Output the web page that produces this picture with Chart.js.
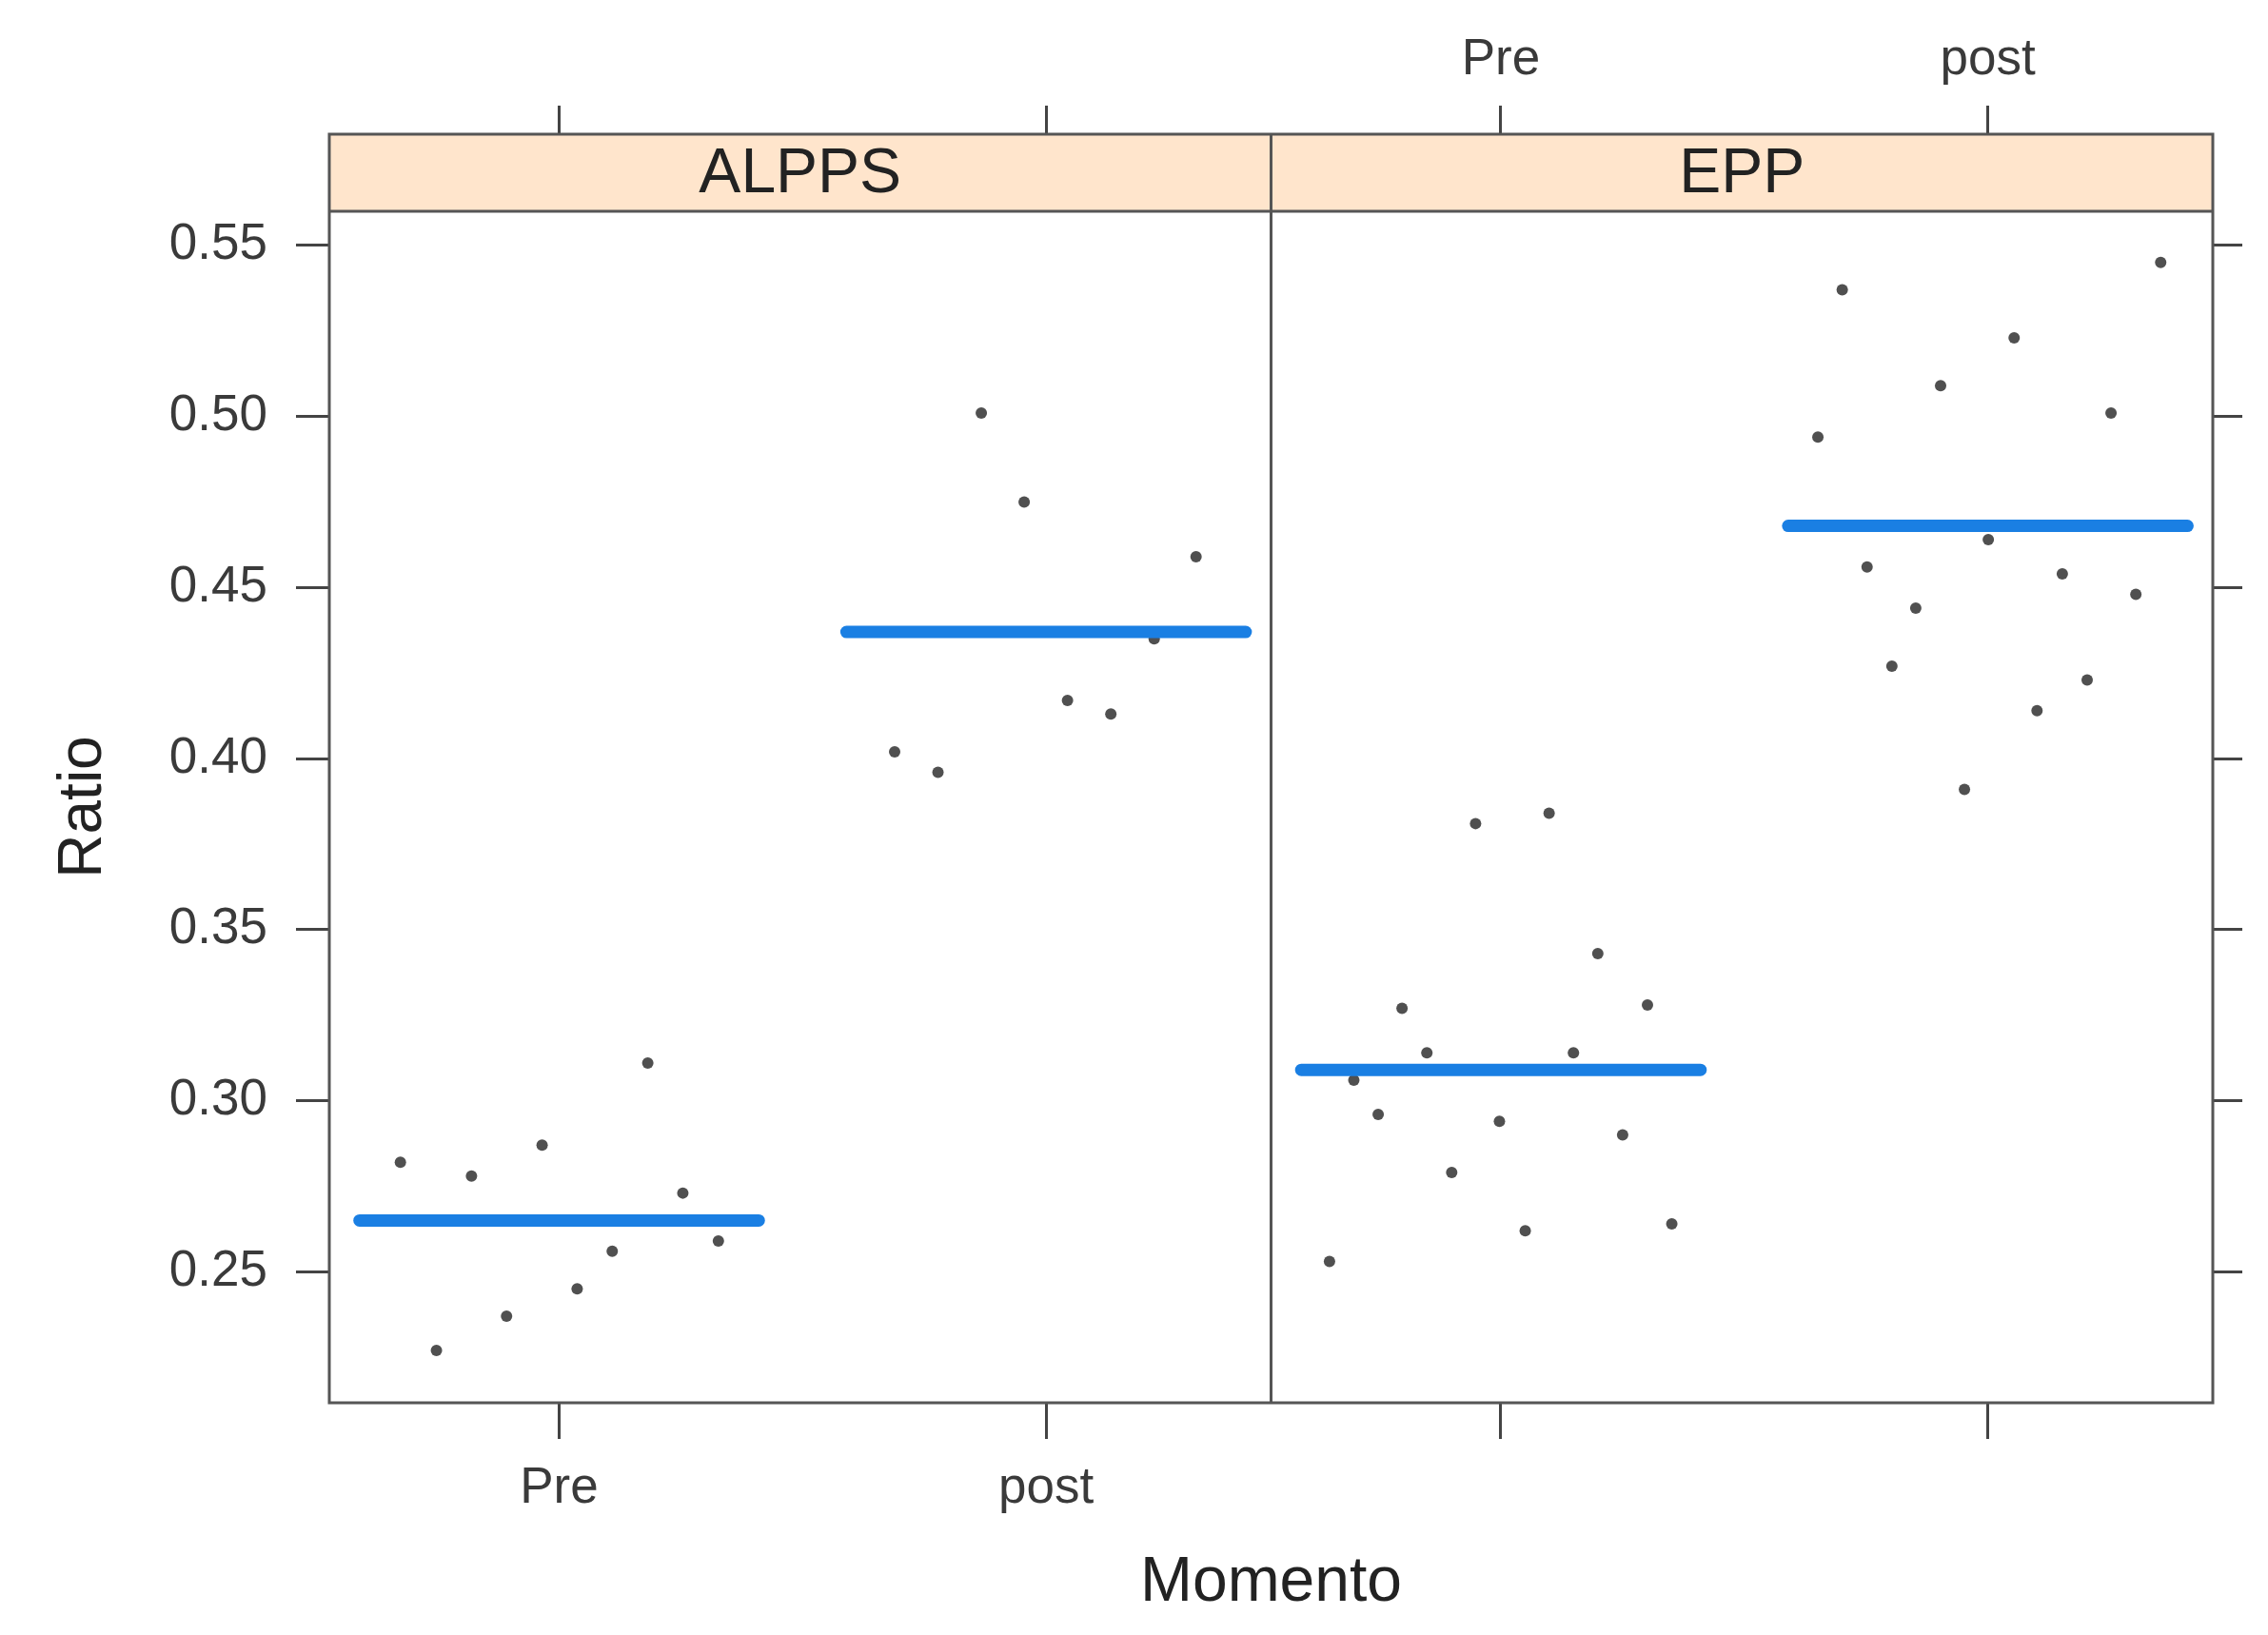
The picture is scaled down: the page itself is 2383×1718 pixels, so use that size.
<!DOCTYPE html>
<html>
<head>
<meta charset="utf-8">
<script src="https://cdn.jsdelivr.net/npm/chart.js@4.4.1/dist/chart.umd.min.js"></script>
<style>
  html, body { margin: 0; padding: 0; background: #fff; }
  #wrap { width: 2383px; height: 1718px; }
</style>
</head>
<body>
<div id="wrap"><canvas id="ratioChart" width="2383" height="1718"></canvas></div>
<script>
const grupos = ['ALPPS', 'EPP'];
const momentos = ['Pre', 'post'];
const yTicks = [0.25, 0.30, 0.35, 0.40, 0.45, 0.50, 0.55];

// horizontal jitter (around the category) and ratio of each patient
const alppsPreJitter = [-0.326, -0.252, -0.180, -0.108, -0.035, 0.037, 0.109, 0.182, 0.254, 0.327];
const alppsPreRatio  = [0.282, 0.227, 0.278, 0.237, 0.287, 0.245, 0.256, 0.311, 0.273, 0.259];

const alppsPostJitter = [-0.311, -0.222, -0.133, -0.045, 0.044, 0.133, 0.222, 0.308];
const alppsPostRatio  = [0.402, 0.396, 0.501, 0.475, 0.417, 0.413, 0.435, 0.459];

const eppPreJitter = [-0.352, -0.302, -0.252, -0.203, -0.152, -0.101, -0.052, -0.003, 0.050, 0.099, 0.149, 0.199, 0.250, 0.301, 0.351];
const eppPreRatio  = [0.253, 0.306, 0.296, 0.327, 0.314, 0.279, 0.381, 0.294, 0.262, 0.384, 0.314, 0.343, 0.290, 0.328, 0.264];

const eppPostJitter = [-0.349, -0.299, -0.248, -0.197, -0.148, -0.097, -0.048, 0.001, 0.054, 0.101, 0.153, 0.204, 0.253, 0.304, 0.355];
const eppPostRatio  = [0.494, 0.537, 0.456, 0.427, 0.444, 0.509, 0.391, 0.464, 0.523, 0.414, 0.454, 0.423, 0.501, 0.448, 0.545];

// group means (blue bars): ALPPS Pre, ALPPS post, EPP Pre, EPP post
const medias = [0.265, 0.437, 0.309, 0.468];

// layout
const panelSpan = 1.934;          // x units per panel
const xMin = 0.528;
const yMin = 0.2117, yMax = 0.5825; // top part holds the strip
const stripHeight = 81;
const meanHalf = 0.41;

const FONT = "'Liberation Sans', Arial, Helvetica, sans-serif";
Chart.defaults.font.family = FONT;

const celdas = [
  { panel: 0, cat: 0, jitter: alppsPreJitter, ratio: alppsPreRatio, media: medias[0] },
  { panel: 0, cat: 1, jitter: alppsPostJitter, ratio: alppsPostRatio, media: medias[1] },
  { panel: 1, cat: 0, jitter: eppPreJitter, ratio: eppPreRatio, media: medias[2] },
  { panel: 1, cat: 1, jitter: eppPostJitter, ratio: eppPostRatio, media: medias[3] },
];

const catTicks = [];
grupos.forEach((g, p) => momentos.forEach((m, c) => catTicks.push(c + 1 + p * panelSpan)));

const datasets = [];
celdas.forEach(cel => {
  const cx = cel.cat + 1 + cel.panel * panelSpan;
  datasets.push({
    type: 'line',
    data: [{ x: cx - meanHalf, y: cel.media }, { x: cx + meanHalf, y: cel.media }],
    borderColor: '#1a7fe3',
    borderWidth: 13,
    borderCapStyle: 'round',
    pointRadius: 0,
    order: 0
  });
  datasets.push({
    type: 'scatter',
    data: cel.ratio.map((r, i) => ({ x: cx + cel.jitter[i], y: r })),
    backgroundColor: '#505050',
    borderWidth: 0,
    pointRadius: 6,
    order: 1
  });
});

// strip, panel frames and y title, lattice style
const latticePlugin = {
  id: 'lattice',
  beforeDatasetsDraw(chart) {
    const { ctx, chartArea: a, scales } = chart;
    const sep = scales.x.getPixelForValue(xMin + panelSpan);
    const sb = a.top + stripHeight;
    ctx.save();
    ctx.fillStyle = '#ffe5cc';
    ctx.fillRect(a.left, a.top, a.right - a.left, stripHeight);
    ctx.strokeStyle = '#555';
    ctx.lineWidth = 3;
    ctx.strokeRect(a.left, a.top, a.right - a.left, a.bottom - a.top);
    ctx.beginPath();
    ctx.moveTo(a.left, sb); ctx.lineTo(a.right, sb);
    ctx.moveTo(sep, a.top); ctx.lineTo(sep, a.bottom);
    ctx.stroke();
    ctx.fillStyle = '#222';
    ctx.font = '66px ' + FONT;
    ctx.textAlign = 'center';
    ctx.textBaseline = 'middle';
    grupos.forEach((g, p) => {
      const l = p === 0 ? a.left : sep;
      const r = p === 0 ? sep : a.right;
      ctx.fillText(g, (l + r) / 2, a.top + stripHeight / 2 + 2);
    });
    // y axis title, centred on the panels below the strip
    ctx.translate(88, (sb + a.bottom) / 2);
    ctx.rotate(-Math.PI / 2);
    ctx.font = '64px ' + FONT;
    ctx.fillText('Ratio', 0, 0);
    ctx.restore();
  }
};

const tickGrid = { drawOnChartArea: false, color: '#444', lineWidth: 3 };
const setCatTicks = s => { s.ticks = catTicks.map(v => ({ value: v })); };
const setYTicks = s => { s.ticks = yTicks.map(v => ({ value: v })); };

new Chart(document.getElementById('ratioChart'), {
  type: 'scatter',
  data: { datasets },
  options: {
    responsive: false,
    animation: false,
    devicePixelRatio: 1,
    layout: { padding: 0 },
    plugins: { legend: { display: false }, tooltip: { enabled: false } },
    scales: {
      x: {
        type: 'linear', position: 'bottom', min: xMin, max: xMin + 2 * panelSpan,
        afterBuildTicks: setCatTicks,
        afterFit: s => { s.height = 244; },
        ticks: { autoSkip: false, maxRotation: 0, padding: 21, color: '#3a3a3a', font: { size: 53 },
                 callback: (v, i) => i < 2 ? momentos[i] : '' },
        grid: Object.assign({ tickLength: 38 }, tickGrid),
        border: { display: false },
        title: { display: true, text: 'Momento', color: '#222', font: { size: 66 }, padding: { top: 0, bottom: 15 } }
      },
      x2: {
        type: 'linear', position: 'top', min: xMin, max: xMin + 2 * panelSpan,
        afterBuildTicks: setCatTicks,
        afterFit: s => { s.height = 141; },
        ticks: { autoSkip: false, maxRotation: 0, padding: 16, color: '#3a3a3a', font: { size: 53 },
                 callback: (v, i) => i >= 2 ? momentos[i - 2] : '' },
        grid: Object.assign({ tickLength: 30 }, tickGrid),
        border: { display: false }
      },
      y: {
        type: 'linear', position: 'left', min: yMin, max: yMax,
        afterBuildTicks: setYTicks,
        afterFit: s => { s.width = 346; },
        ticks: { padding: 30, color: '#3a3a3a', font: { size: 53 }, callback: v => v.toFixed(2) },
        grid: Object.assign({ tickLength: 35 }, tickGrid),
        border: { display: false }
      },
      y2: {
        type: 'linear', position: 'right', min: yMin, max: yMax,
        afterBuildTicks: setYTicks,
        afterFit: s => { s.width = 58; },
        ticks: { display: false },
        grid: Object.assign({ tickLength: 31 }, tickGrid),
        border: { display: false }
      }
    }
  },
  plugins: [latticePlugin]
});
</script>
</body>
</html>
